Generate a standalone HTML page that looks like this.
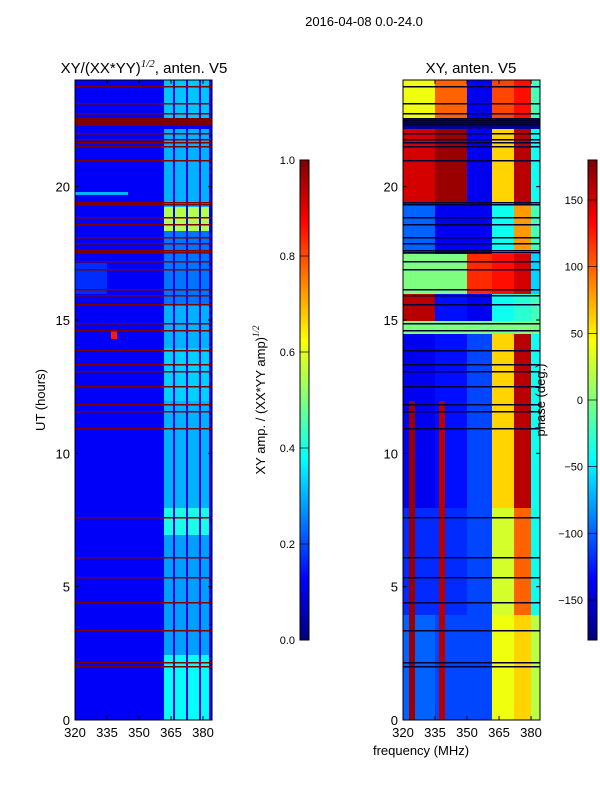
<!DOCTYPE html>
<html><head><meta charset="utf-8"><style>
body{margin:0;background:#fff;font-family:"Liberation Sans",sans-serif;}
#root{position:relative;width:600px;height:800px;overflow:hidden;}
canvas{position:absolute;image-rendering:pixelated;}
svg{position:absolute;left:0;top:0;}
</style></head><body>
<div id="root">
<canvas id="hm1" style="left:75px;top:80px" width="137" height="640"></canvas>
<canvas id="hm2" style="left:403px;top:80px" width="137" height="640"></canvas>
<canvas id="cb1" style="left:300px;top:160px" width="9" height="480"></canvas>
<canvas id="cb2" style="left:588px;top:160px" width="9" height="480"></canvas>
<svg id="ax" width="600" height="800" font-size="13" fill="#000">
<text x="364" y="26" text-anchor="middle" font-size="13">2016-04-08 0.0-24.0</text>
<text x="144" y="73" text-anchor="middle" font-size="15">XY/(XX*YY)<tspan font-family="Liberation Serif" font-style="italic" font-size="11" dy="-6">1/2</tspan><tspan dy="6">, anten. V5</tspan></text>
<text x="471" y="73" text-anchor="middle" font-size="15">XY, anten. V5</text>
<text transform="translate(45,400) rotate(-90)" text-anchor="middle">UT (hours)</text>
<text x="421" y="755" text-anchor="middle">frequency (MHz)</text>
<text transform="translate(265,400) rotate(-90)" text-anchor="middle">XY amp. / (XX*YY amp)<tspan font-family="Liberation Serif" font-style="italic" font-size="9" dy="-6">1/2</tspan></text>
<text transform="translate(545,400) rotate(-90)" text-anchor="middle">phase (deg.)</text>
<g id="axes"></g>
</svg>
</div>
<script>
// ---- data ----
const timeRange=[0,24];
const freqRange=[320,384.2];
const timeTicks=[0,5,10,15,20];
const freqTicks=[320,335,350,365,380];
const ampTicks=[0.0,0.2,0.4,0.6,0.8,1.0];
const phaseTicks=[-150,-100,-50,0,50,100,150];
const flaggedHours=[23.78,23.14,22.76,22.58,22.5,22.42,22.34,22.01,21.79,21.68,21.53,21.0,19.42,19.36,18.86,18.6,18.11,17.89,17.63,17.55,17.21,16.91,16.16,15.94,15.6,14.89,14.63,13.88,13.35,13.09,12.53,11.85,11.6,10.95,7.61,6.11,5.36,4.43,3.38,2.18,2.03];
const rfiColumns=[[362,366],[367,372],[373.5,378],[379,383]];
// amplitude of RFI region per time segment: [start,end,value]
const ampSegments=[[0,2.5,0.38],[2.5,7,0.28],[7,8,0.4],[8,12,0.3],[12,14,0.33],[14,15.6,0.3],[15.6,18.4,0.24],[18.4,19.3,0.55],[19.3,22.2,0.3],[22.6,24,0.32]];
const ampBackground=0.12;
const ampFeatures=[[16,17.2,320,335,0.17],[19.75,19.85,320,345,0.3],[14.35,14.65,337,340,0.85]];
// phase per segment: [start,end, A(320-335),B(335-350),C(350-362),D(362-372),E(372-380),F(380-384)]
const phaseZones=[320,335,350,362,372,380,384.2];
const phaseSegments=[
[0,4,-100,-110,-110,40,60,20],
[4,8,-120,-120,-110,30,100,-40],
[8,14.5,-140,-130,-110,60,160,-40],
[14.5,15,0,0,0,0,0,0],
[15,16,160,-130,-140,-40,-30,-20],
[16,17.5,0,0,120,130,150,-60],
[17.5,19.4,-100,-140,-140,-40,80,-20],
[19.4,22.2,150,170,-140,60,160,-40],
[22.2,22.6,-170,-170,-170,-170,-170,-170],
[22.6,24,40,100,-140,110,130,-20]];
const phaseStripes=[[0,12,323,326,170],[0,12,337.5,340,160]];

// ---- helpers ----
function jet(v){v=Math.max(0,Math.min(1,v));
 const r=Math.max(0,Math.min(1,1.5-Math.abs(4*v-3))),g=Math.max(0,Math.min(1,1.5-Math.abs(4*v-2))),b=Math.max(0,Math.min(1,1.5-Math.abs(4*v-1)));
 return `rgb(${r*255|0},${g*255|0},${b*255|0})`;}
const W=137,H=640;
const xS=f=>(f-freqRange[0])/(freqRange[1]-freqRange[0])*W;
const yS=t=>H-(t-timeRange[0])/(timeRange[1]-timeRange[0])*H;
const NR=480,NC=64;
function ampAt(t,f){
 let v=ampBackground;
 for(const a of ampFeatures) if(t>=a[0]&&t<a[1]&&f>=a[2]&&f<a[3]) v=a[4];
 for(const c of rfiColumns) if(f>=c[0]&&f<c[1]) for(const s of ampSegments) if(t>=s[0]&&t<s[1]) v=s[2];
 return v;}
function phaseAt(t,f){
 let z=0;for(let i=0;i<6;i++) if(f>=phaseZones[i]&&f<phaseZones[i+1]) z=i;
 let v=0;for(const s of phaseSegments) if(t>=s[0]&&t<s[1]) v=s[2+z];
 for(const s of phaseStripes) if(t>=s[0]&&t<s[1]&&f>=s[2]&&f<s[3]) v=s[4];
 return v;}
function draw(id,fn,norm,flagColor){
 const c=document.getElementById(id).getContext('2d');
 const dt=(timeRange[1]-timeRange[0])/NR,df=(freqRange[1]-freqRange[0])/NC;
 for(let i=0;i<NR;i++){const t=timeRange[0]+(i+0.5)*dt;
  for(let j=0;j<NC;j++){const f=freqRange[0]+(j+0.5)*df;
   c.fillStyle=jet(norm(fn(t,f)));
   const x0=xS(f-df/2),x1=xS(f+df/2),y0=yS(t+dt/2),y1=yS(t-dt/2);
   c.fillRect(Math.floor(x0),Math.floor(y0),Math.ceil(x1-x0)+1,Math.ceil(y1-y0)+1);}}
 c.fillStyle=flagColor;
 for(const h of flaggedHours) c.fillRect(0,Math.round(yS(h)),W,1.5);
}
draw('hm1',ampAt,v=>v,'#800000');
draw('hm2',phaseAt,v=>(v+180)/360,'#000033');
function cbar(id){const c=document.getElementById(id).getContext('2d');
 for(let y=0;y<480;y++){c.fillStyle=jet(1-y/479);c.fillRect(0,y,9,1);}}
cbar('cb1');cbar('cb2');

// ---- axes ----
const g=document.getElementById('axes');const NS='http://www.w3.org/2000/svg';
function el(tag,attrs,txt){const e=document.createElementNS(NS,tag);for(const k in attrs)e.setAttribute(k,attrs[k]);if(txt!==undefined)e.textContent=txt;g.appendChild(e);return e;}
[[75,'left'],[403,'right']].forEach(([x0,side])=>{
 const fr=el('rect',{x:x0,y:80,width:W,height:H,fill:'none',stroke:'#000','stroke-width':1});
 
 
 timeTicks.forEach(t=>{const y=80+yS(t);
  el('line',{x1:x0,x2:x0+4,y1:y,y2:y,stroke:'#000'});el('line',{x1:x0+W,x2:x0+W-4,y1:y,y2:y,stroke:'#000'});
  const tx=el('text',{x:x0-5,y:y+5,'text-anchor':'end'},String(t));
  
  });
 freqTicks.forEach(f=>{const x=x0+xS(f);
  el('line',{x1:x,x2:x,y1:720,y2:716,stroke:'#000'});el('line',{x1:x,x2:x,y1:80,y2:84,stroke:'#000'});
  const tx=el('text',{x:x,y:737,'text-anchor':'middle'},String(f));
  
  });
});
function cbAxis(x0,ticks,lo,hi,fmt){
 el('rect',{x:x0,y:160,width:9,height:480,fill:'none',stroke:'#000'});
 ticks.forEach(v=>{const y=640-(v-lo)/(hi-lo)*480;
  el('line',{x1:x0,x2:x0+9,y1:y,y2:y,stroke:'#000','stroke-width':0.7});
  const tx=el('text',{x:x0-5,y:y+4,'text-anchor':'end','font-size':11},fmt(v));
  
  });}
cbAxis(300,ampTicks,0,1,v=>v.toFixed(1));
cbAxis(588,phaseTicks,-180,180,v=>v<0?'\u2212'+(-v):String(v));
</script>
</body></html>
